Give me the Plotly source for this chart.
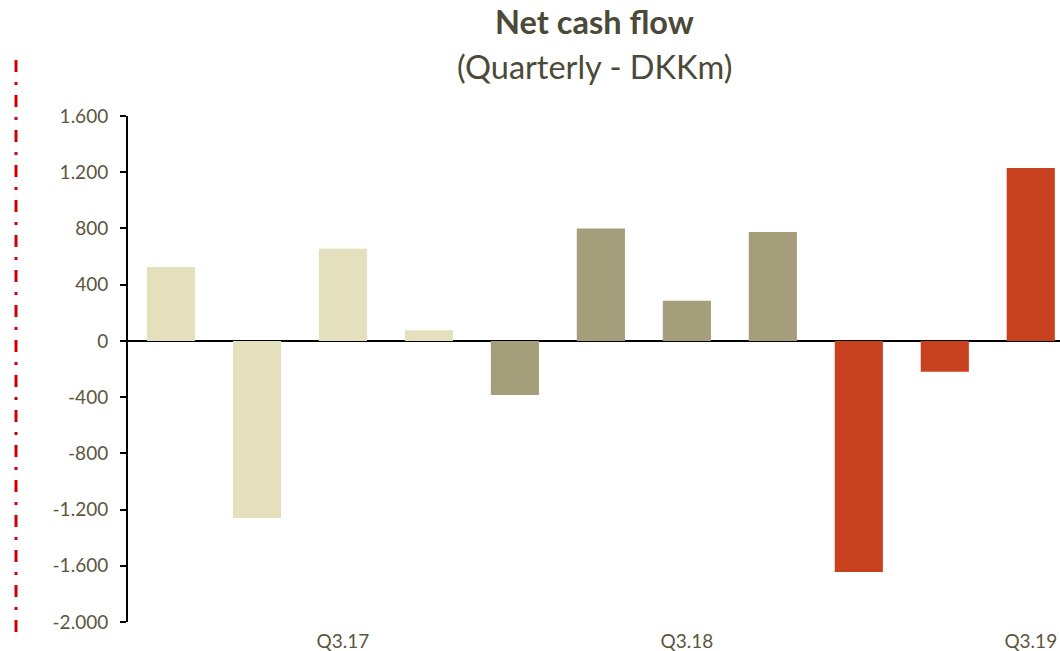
import plotly.graph_objects as go

quarters = ["Q1.17", "Q2.17", "Q3.17", "Q4.17",
            "Q1.18", "Q2.18", "Q3.18", "Q4.18",
            "Q1.19", "Q2.19", "Q3.19"]
net_cash_flow = [525, -1260, 655, 75, -385, 800, 285, 775, -1645, -220, 1230]
bar_colors = ["#e4dfbd"] * 4 + ["#a59e7a"] * 4 + ["#c8411f"] * 3

shown_quarters = ["Q3.17", "Q3.18", "Q3.19"]
y_ticks = [1600, 1200, 800, 400, 0, -400, -800, -1200, -1600, -2000]
y_tick_labels = ["1.600", "1.200", "800", "400", "0", "-400", "-800",
                 "-1.200", "-1.600", "-2.000"]

text_color = "#5d5640"
title_color = "#4b4a38"
font_family = "Lato, Noto Sans, sans-serif"

# plot area in pixels: left 128, top 116, width 932, height 506
PLOT_W, PLOT_H = 932, 506

fig = go.Figure(go.Bar(
    x=quarters,
    y=net_cash_flow,
    marker=dict(color=bar_colors, line=dict(width=0)),
    hoverinfo="x+y",
))

fig.update_layout(
    width=1060,
    height=651,
    margin=dict(l=128, r=0, t=116, b=29, autoexpand=False),
    plot_bgcolor="white",
    paper_bgcolor="white",
    bargap=0.44,
    showlegend=False,
    font=dict(family=font_family, color=text_color, size=19),
)

fig.add_annotation(
    text="<b>Net cash flow</b>", xref="paper", yref="paper",
    x=0.5, y=1 + (116 - 22) / PLOT_H, xanchor="center", yanchor="middle",
    showarrow=False, font=dict(size=32.5, color=title_color),
)
fig.add_annotation(
    text="(Quarterly - DKKm)", xref="paper", yref="paper",
    x=0.5, y=1 + (116 - 67) / PLOT_H, xanchor="center", yanchor="middle",
    showarrow=False, font=dict(size=32.5, color=title_color),
)

fig.update_xaxes(
    range=[-0.5, 10.34],
    tickvals=shown_quarters,
    ticks="",
    showline=False,
    showgrid=False,
    automargin=False,
    ticklabelstandoff=6,
    tickfont=dict(size=19, color=text_color),
)

fig.update_yaxes(
    range=[-2000, 1600],
    tickvals=y_ticks,
    ticktext=y_tick_labels,
    showgrid=False,
    showline=True,
    linecolor="black",
    linewidth=2,
    ticks="outside",
    ticklen=6,
    tickwidth=2,
    tickcolor="black",
    ticklabelstandoff=8,
    zeroline=True,
    zerolinecolor="black",
    zerolinewidth=2,
    automargin=False,
    tickfont=dict(size=19, color=text_color),
)

# red dash-dot marker line at the left edge
fig.add_shape(
    type="line", xref="paper", yref="paper",
    x0=(16 - 128) / PLOT_W, x1=(16 - 128) / PLOT_W,
    y0=(622 - 60) / PLOT_H, y1=(622 - 635) / PLOT_H,
    line=dict(color="#cc0000", width=3, dash="12px,10px,3px,10px"),
)

# drop the browser's default 8px page margin so the figure fills the window
fig.write_html(
    "out.html",
    config={"displayModeBar": False},
    post_script="document.body.style.margin = '0';",
)
